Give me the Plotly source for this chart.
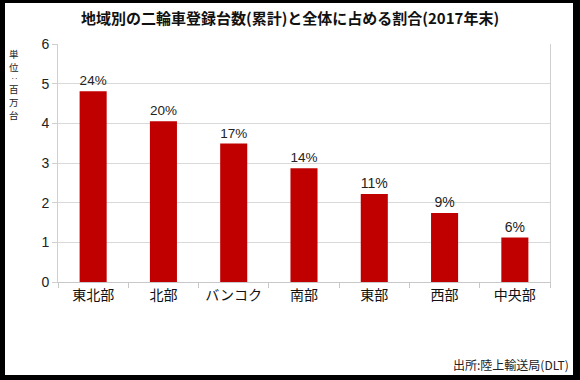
import plotly.graph_objects as go

categories = ["東北部", "北部", "バンコク", "南部", "東部", "西部", "中央部"]
registrations = [4.81, 4.05, 3.49, 2.87, 2.22, 1.74, 1.12]  # 百万台
shares = [24, 20, 17, 14, 11, 9, 6]  # %
y_ticks = [0, 1, 2, 3, 4, 5, 6]

title_text = "地域別の二輪車登録台数(累計)と全体に占める割合(2017年末)"
unit_chars = ["単", "位", "‥", "百", "万", "台"]
source_text = "出所:陸上輸送局(DLT)"

FONT = "Noto Sans CJK JP, Liberation Sans, Arial, sans-serif"
NUMFONT = "Liberation Sans, Arial, sans-serif"

W, H = 580, 380
L, R, T, B = 58, 30, 44, 98
pw, ph = W - L - R, H - T - B

def px(x):
    return (x - L) / pw

def py(y):
    return (H - B - y) / ph

fig = go.Figure(
    go.Bar(
        x=categories,
        y=registrations,
        marker=dict(color="#C00000", line=dict(width=0)),
        text=[f"{s}%" for s in shares],
        textposition="outside",
        textfont=dict(family=NUMFONT, size=14, color="#222222"),
        cliponaxis=False,
        hoverinfo="skip",
    )
)

annotations = [
    dict(
        text=f"<b>{title_text}</b>", xref="paper", yref="paper",
        x=px(290), y=py(18), xanchor="center", yanchor="middle",
        showarrow=False, font=dict(family=FONT, size=15, color="#111111"),
    ),
    dict(
        text=source_text, xref="paper", yref="paper",
        x=px(571), y=py(364), xanchor="right", yanchor="middle",
        showarrow=False, font=dict(family=FONT, size=12, color="#222222"),
    ),
]
unit_y = [54, 67, 78.2, 89.4, 102.3, 115.2]
unit_size = [9.5, 9.5, 7, 9.5, 9.5, 9.5]
for ch, yy, sz in zip(unit_chars, unit_y, unit_size):
    annotations.append(dict(
        text=ch, xref="paper", yref="paper",
        x=px(14), y=py(yy), xanchor="center", yanchor="middle",
        showarrow=False, borderpad=0,
        font=dict(family=FONT, size=sz, color="#222222"),
    ))

fig.update_layout(
    width=W,
    height=H,
    margin=dict(l=L, r=R, t=T, b=B, pad=0),
    paper_bgcolor="black",
    plot_bgcolor="white",
    bargap=0.615,
    showlegend=False,
    font=dict(family=FONT, color="#222222"),
    shapes=[
        dict(
            type="rect", xref="paper", yref="paper",
            x0=px(5), x1=px(573), y0=py(375), y1=py(3),
            fillcolor="white", line=dict(width=0), layer="below",
        )
    ],
    annotations=annotations,
)

fig.update_xaxes(
    type="category",
    showline=True, linecolor="#C8C8C8", linewidth=1,
    ticks="outside", tickson="boundaries", ticklen=5, tickcolor="#C8C8C8",
    tickfont=dict(family=FONT, size=14, color="#111111"),
    showgrid=False,
)

fig.update_yaxes(
    range=[0, 6],
    tickvals=y_ticks,
    showline=True, mirror=True, linecolor="#D0D0D0", linewidth=1,
    ticks="outside", ticklen=5, tickcolor="#D0D0D0",
    showgrid=True, gridcolor="#D9D9D9", gridwidth=1,
    zeroline=False,
    tickfont=dict(family=NUMFONT, size=14, color="#222222"),
)

fig.write_html(
    "out.html",
    config={"displayModeBar": False},
    post_script="document.body.style.margin='0';document.body.style.overflow='hidden';",
)
